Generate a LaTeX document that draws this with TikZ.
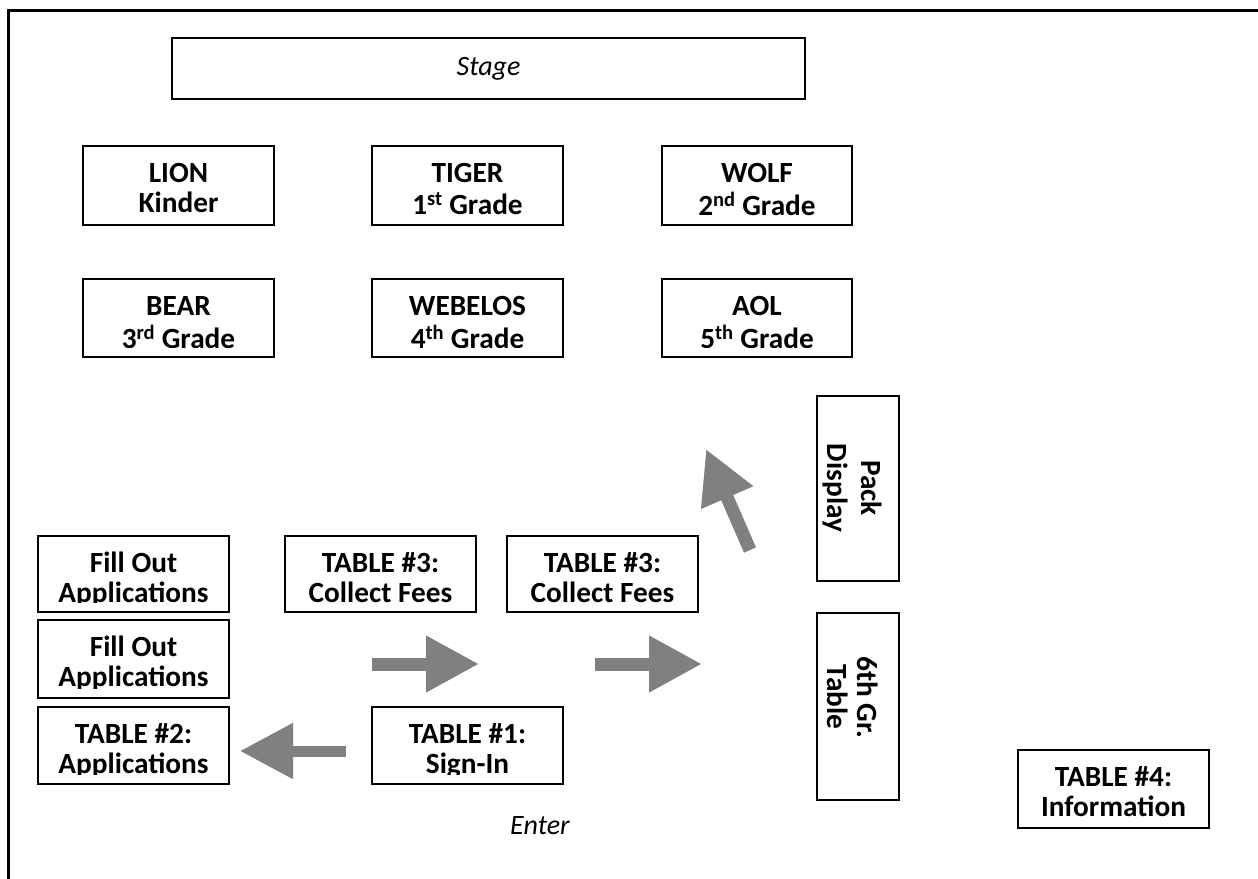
\documentclass[tikz,border=0pt]{standalone}
\usepackage{fontspec}
\setmainfont{Carlito}
\usetikzlibrary{arrows.meta}
\definecolor{arrowgray}{RGB}{128,128,128}
\tikzset{
  boxshape/.style={draw=black, line width=1.7pt, inner sep=0pt, fill=white},
  lbl/.style={inner sep=0pt, align=center, font=\bfseries\fontsize{29.3}{30}\selectfont},
  ital/.style={inner sep=0pt, font=\itshape\fontsize{28}{30}\selectfont},
  bigarrow/.style={draw=arrowgray, line width=13pt, -{Triangle[length=53pt,width=53pt]}},
  arrowshadow/.style={draw=black, opacity=0.18, line width=13pt, -{Triangle[length=53pt,width=53pt]}, shift={(2,3)}},
  frameline/.style={draw=black, line width=3pt}
}
% #1 name, #2 x1, #3 y1, #4 x2, #5 y2, #6 text
\newcommand{\plbox}[6]{%
  \node[boxshape, minimum width={#4-#2}, minimum height={#5-#3}] (#1) at ({(#2+#4)/2},{(#3+#5)/2}) {};
  \begin{scope}
    \clip (#2,#3) rectangle (#4,#5-10);
    \node[lbl, anchor=north] (#1-t) at ({(#2+#4)/2},#3+15) {\strut #6};
  \end{scope}}
\begin{document}
\begin{tikzpicture}[x=1pt,y=-1pt]
\useasboundingbox (0,0) rectangle (1258,878);
\draw[frameline] (8,890) -- (8,10) -- (1270,10);

% stage
\node[boxshape, minimum width=633, minimum height=61] (stage) at (488.5,68.5) {};
\node[ital] (stagetext) at (stage.center) {Stage};

% grade boxes
\plbox{lion}{83}{146}{274}{225}{LION\\\strut Kinder}
\plbox{tiger}{372}{146}{563}{225}{TIGER\\\strut 1\textsuperscript{st} Grade}
\plbox{wolf}{662}{146}{852}{225}{WOLF\\\strut 2\textsuperscript{nd} Grade}
\plbox{bear}{83}{279}{274}{357}{BEAR\\\strut 3\textsuperscript{rd} Grade}
\plbox{webelos}{372}{279}{563}{357}{WEBELOS\\\strut 4\textsuperscript{th} Grade}
\plbox{aol}{662}{279}{852}{357}{AOL\\\strut 5\textsuperscript{th} Grade}

% tables
\plbox{fill1}{38}{536}{229}{612}{Fill Out\\\strut Applications}
\plbox{fill2}{38}{620}{229}{698}{Fill Out\\\strut Applications}
\plbox{tab2}{38}{707}{229}{784}{TABLE \#2:\\\strut Applications}
\plbox{fees1}{285}{536}{476}{612}{TABLE \#3:\\\strut Collect Fees}
\plbox{fees2}{507}{536}{698}{612}{TABLE \#3:\\\strut Collect Fees}
\plbox{tab1}{372}{707}{563}{784}{TABLE \#1:\\\strut Sign-In}
\plbox{tab4}{1018}{750}{1209}{828}{TABLE \#4:\\\strut Information}

% vertical tables
\node[boxshape, minimum width=82, minimum height=185] (pack) at (858,488.5) {};
\node[lbl, rotate=-90, font=\bfseries\fontsize{29.3}{34}\selectfont] (packtext) at (852,488) {Pack\\Display};
\node[boxshape, minimum width=82, minimum height=187] (sixth) at (858,706.5) {};
\node[lbl, rotate=-90] (sixthtext) at (853,697) {6th Gr.\\Table};

% entrance
\node[ital] (enter) at (540,826) {Enter};

% arrows
\coordinate (a1s) at (372,664);
\coordinate (a1e) at (479,664);
\coordinate (a2s) at (595,664);
\coordinate (a2e) at (702,664);
\coordinate (a3s) at (346,751);
\coordinate (a3e) at (240,751);
\coordinate (a4s) at (750,550);
\coordinate (a4e) at (706,449);
\draw[arrowshadow] (a1s) -- (a1e);
\draw[arrowshadow] (a2s) -- (a2e);
\draw[arrowshadow, line width=11pt] (a3s) -- (a3e);
\draw[arrowshadow] (a4s) -- (a4e);
\draw[bigarrow] (a1s) -- (a1e);
\draw[bigarrow] (a2s) -- (a2e);
\draw[bigarrow, line width=11pt] (a3s) -- (a3e);
\draw[bigarrow] (a4s) -- (a4e);
\end{tikzpicture}
\end{document}
